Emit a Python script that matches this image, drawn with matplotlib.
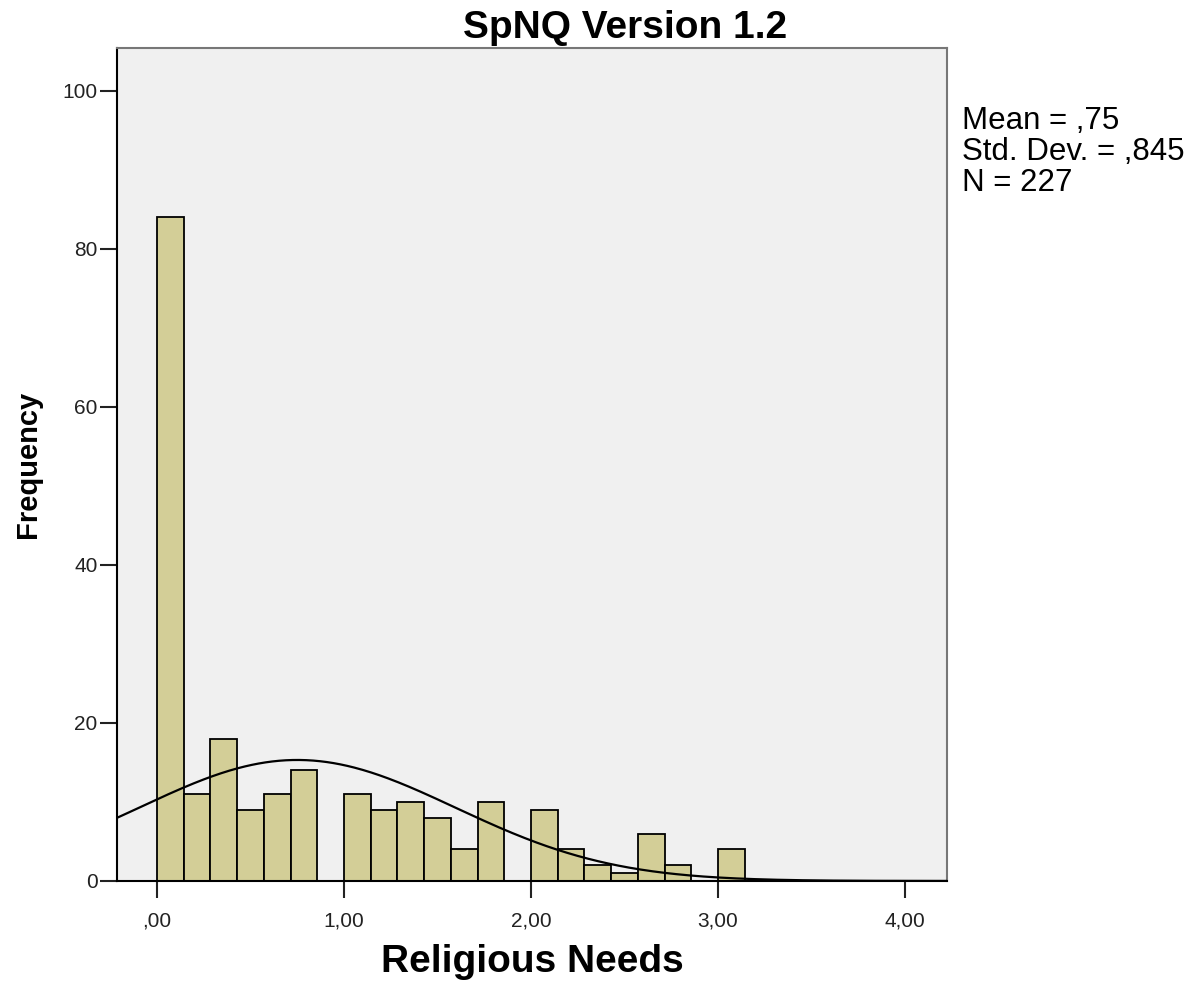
import numpy as np
import matplotlib
matplotlib.use('Agg')
import matplotlib.pyplot as plt
from matplotlib.ticker import FuncFormatter

plt.rcParams['font.family'] = ['Liberation Sans', 'DejaVu Sans']

# Histogram of Religious Needs scores, bins of width 1/7 starting at 0
bin_width = 1 / 7
counts = [84, 11, 18, 9, 11, 14, 0, 11, 9, 10, 8, 4, 10, 0,
          9, 4, 2, 1, 6, 2, 0, 4]
mean = 0.75
std_dev = 0.845
n_total = 227

x_ticks = [0, 1, 2, 3, 4]
y_ticks = [0, 20, 40, 60, 80, 100]

fig = plt.figure(figsize=(12.04, 9.83), dpi=100)
ax = fig.add_axes([0.0972, 0.1038, 0.6894, 0.8474])
ax.set_facecolor('#f0f0f0')

left_edges = np.arange(len(counts)) * bin_width
ax.bar(left_edges, counts, width=bin_width, align='edge',
       color='#d3ce97', edgecolor='black', linewidth=1.3, zorder=2)

# normal curve scaled to counts
xs = np.linspace(-0.25, 4.3, 500)
ys = n_total * bin_width / (std_dev * np.sqrt(2 * np.pi)) * \
    np.exp(-0.5 * ((xs - mean) / std_dev) ** 2)
ax.plot(xs, ys, color='black', linewidth=1.6, zorder=3)

ax.set_xlim(-0.214, 4.225)
ax.set_ylim(0, 105.4)
ax.set_xticks(x_ticks)
ax.set_yticks(y_ticks)


def comma_fmt(v, pos):
    s = f"{v:.2f}".replace('.', ',')
    return s[1:] if s.startswith('0') else s


ax.xaxis.set_major_formatter(FuncFormatter(comma_fmt))
ax.tick_params(axis='both', direction='out', length=12, width=1.5,
               labelsize=15, color='#222222', labelcolor='#222222', pad=2)
ax.tick_params(axis='x', pad=10)

for side in ['left', 'bottom']:
    ax.spines[side].set_color('black')
    ax.spines[side].set_linewidth(1.5)
for side in ['top', 'right']:
    ax.spines[side].set_color('#777777')
    ax.spines[side].set_linewidth(1.5)

ax.set_xlabel('Religious Needs', fontsize=28, fontweight='bold', va='center')
ax.xaxis.set_label_coords(0.5, -0.097)
ax.set_ylabel('Frequency', fontsize=21, fontweight='bold', va='center')
ax.yaxis.set_label_coords(-0.107, 0.5)

fig.text(625 / 1204, 1 - 38 / 983, 'SpNQ Version 1.2', fontsize=28,
         fontweight='bold', ha='center', va='baseline')

stats = f"Mean = ,75\nStd. Dev. = ,845\nN = {n_total}"
fig.text(962 / 1204, 1 - 106 / 983, stats, fontsize=22.5,
         ha='left', va='top', linespacing=1.05)

fig.savefig('out.png', dpi=100)
